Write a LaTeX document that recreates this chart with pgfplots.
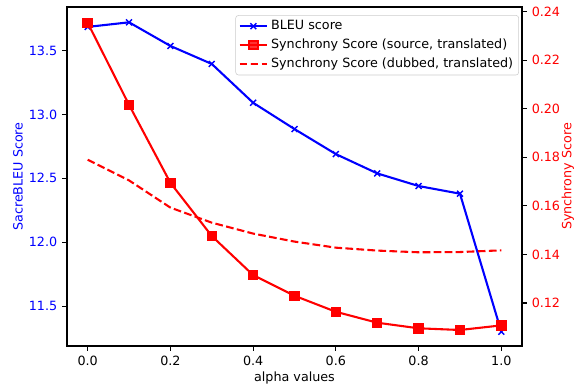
\documentclass[border=0pt]{standalone}
\usepackage{fontspec}
\setmainfont{DejaVu Sans}
\usepackage{pgfplots}
\pgfplotsset{compat=1.18}
\definecolor{mplblue}{RGB}{0,0,255}
\definecolor{mplred}{RGB}{255,0,0}
\begin{document}
\begin{tikzpicture}
\pgfplotsset{
  every axis/.append style={
    scale only axis, width=327.6bp, height=244.1bp,
    at={(0,0)}, anchor=south west,
    xmin=-0.05, xmax=1.05,
    tick align=outside, major tick length=3.5bp,
    every tick/.style={black, line width=0.8bp},
    axis line style={line width=0.8bp},
    /pgf/number format/assume math mode=true,
    tick label style={font=\fontsize{9.2}{11}\selectfont},
    label style={font=\fontsize{9.2}{11}\selectfont},
  }
}
\path[use as bounding box] (-48.24bp,-29.52bp) rectangle (368.64bp,249.14bp);
\begin{axis}[
  ymin=11.187, ymax=13.842,
  xtick={0,0.2,0.4,0.6,0.8,1.0},
  ytick={11.5,12,12.5,13,13.5},
  xtick pos=bottom, ytick pos=left,
  xticklabel style={/pgf/number format/fixed, /pgf/number format/fixed zerofill, /pgf/number format/precision=1},
  yticklabel style={text=mplblue, /pgf/number format/fixed, /pgf/number format/fixed zerofill, /pgf/number format/precision=1},
  xlabel={alpha values},
  ylabel={SacreBLEU Score},
  ylabel style={text=mplblue, at={(axis description cs:-0.1077,0.5)}, anchor=center, rotate=0},
  xlabel style={at={(axis description cs:0.5,-0.094)}, anchor=center},
]
\addplot[mplblue, line width=1.5bp, mark=x, mark size=3bp, mark options={line width=1bp}] coordinates {
(0.0,13.686) (0.1,13.722) (0.2,13.537) (0.3,13.396) (0.4,13.092) (0.5,12.886)
(0.6,12.690) (0.7,12.539) (0.8,12.440) (0.9,12.380) (1.0,11.299)};
\end{axis}
\begin{axis}[
  ymin=0.1023, ymax=0.2419,
  axis x line=none, axis y line*=right,
  ytick={0.12,0.14,0.16,0.18,0.20,0.22,0.24},
  ytick pos=right,
  yticklabel style={text=mplred, /pgf/number format/fixed, /pgf/number format/fixed zerofill, /pgf/number format/precision=2},
  ylabel={Synchrony Score},
  ylabel style={text=mplred, at={(axis description cs:1.101,0.5)}, anchor=center, rotate=0},
  legend style={at={(axis description cs:0.9934,0.976)}, anchor=north east,
    draw=black!20, rounded corners=2bp, fill=white, fill opacity=0.8, text opacity=1,
    font=\fontsize{9.2}{11}\selectfont, inner xsep=2bp, inner ysep=2bp, row sep=2.2bp,
    /tikz/every even column/.append style={column sep=4bp},
    nodes={inner xsep=2bp, inner ysep=1bp, text height=7.3bp, text depth=2.2bp}},
  legend cell align=left,
  legend image code/.code={\draw[mark repeat=2,mark phase=2,#1] plot coordinates {(0bp,0bp) (10bp,0bp) (20bp,0bp)};},
]
\addlegendimage{mplblue, line width=1.5bp, mark=x, mark size=3bp, mark options={line width=1bp}}
\addlegendentry{BLEU score}
\addplot[mplred, line width=1.5bp, mark=square*, mark size=3bp] coordinates {
(0.0,0.2354) (0.1,0.2016) (0.2,0.1695) (0.3,0.1476) (0.4,0.1315) (0.5,0.1230)
(0.6,0.1164) (0.7,0.1119) (0.8,0.1096) (0.9,0.1089) (1.0,0.1108)};
\addlegendentry{Synchrony Score (source, translated)}
\addplot[mplred, line width=1.5bp, dash pattern=on 5.55bp off 2.4bp] coordinates {
(0.0,0.1790) (0.1,0.1705) (0.2,0.1593) (0.3,0.1531) (0.4,0.1486) (0.5,0.1453)
(0.6,0.1428) (0.7,0.1416) (0.8,0.1409) (0.9,0.1410) (1.0,0.1417)};
\addlegendentry{Synchrony Score (dubbed, translated)}
\end{axis}
\end{tikzpicture}
\end{document}
